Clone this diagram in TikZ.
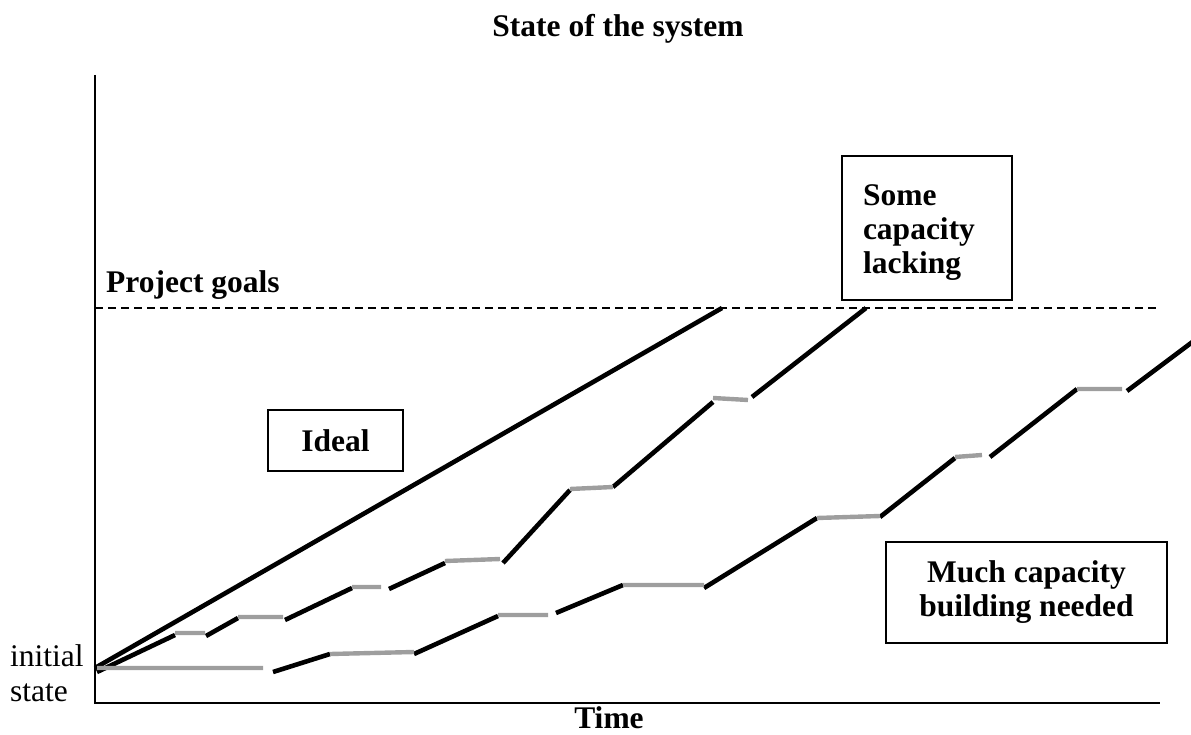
\documentclass[tikz,border=0pt]{standalone}
\usepackage{xcolor}
\usepackage{tikz}
\usepackage{fontspec}
\setmainfont{Liberation Serif}
\definecolor{pausegray}{RGB}{158,158,158}

\begin{document}
\begin{tikzpicture}[
    x=1pt, y=-1pt,
    lbl/.style={inner sep=0pt, font=\fontsize{31.5}{34}\selectfont\bfseries},
    box/.style={rectangle, draw, line width=1.8pt, inner sep=0pt, align=center, font=\fontsize{31.5}{34}\selectfont\bfseries},
    axis/.style={line width=2.2pt},
    goal/.style={line width=1.5pt, dash pattern=on 8pt off 5pt},
    run/.style={line width=4.6pt},
    pause/.style={line width=4.4pt, pausegray}
]
    \useasboundingbox (0,0) rectangle (1191,735);

    % axes
    \coordinate (top) at (95,75);
    \coordinate (origin) at (95,703);
    \coordinate (tend) at (1160,703);
    \draw[axis] (top) -- (origin) -- (tend);

    \node[lbl, anchor=base] (title) at (618,37) {State of the system};
    \node[lbl, anchor=base] (time) at (609,728) {Time};
    \node[lbl, anchor=base west] (goals) at (106,293) {Project goals};
    \node[inner sep=0pt, align=left, anchor=west, font=\fontsize{31.5}{35}\selectfont] (init) at (10,673) {initial\\state};

    % goal line
    \coordinate (g0) at (95,308);
    \coordinate (g1) at (1160,308);
    \draw[goal] (g0) -- (g1);

    % ideal path
    \draw[run] (95,668) -- (722,308);

    % some capacity lacking
    \draw[run] (97,672) -- (175,635) (206,636) -- (238,618) (285,620) -- (352,588)
        (389,589) -- (445,563) (503,563) -- (570,490) (613,487) -- (713,402)
        (752,397) -- (866,308);
    \draw[pause] (175,633) -- (205,633) (238,617) -- (283,617) (352,587) -- (381,587)
        (445,561) -- (500,559) (570,489) -- (613,487) (713,398) -- (748,400);

    % much capacity building needed
    \draw[run] (273,672) -- (330,654) (414,654) -- (498,616) (556,613) -- (623,585)
        (704,588) -- (817,518) (880,517) -- (955,458) (990,457) -- (1077,389)
        (1127,391) -- (1195,340);
    \draw[pause] (97,668) -- (263,668) (330,654) -- (414,652) (498,615) -- (548,615)
        (623,585) -- (704,585) (817,518) -- (880,516) (955,457) -- (982,455)
        (1077,389) -- (1122,389);

    % boxes
    \node[box, minimum width=135pt, minimum height=61pt] (ideal) at (335.5,440.5) {Ideal};
    \node[box, minimum width=170pt, minimum height=144pt, text width=128pt, align=left] (some) at (927,228) {\rule{0pt}{30pt}Some\\capacity\\lacking};
    \node[box, minimum width=281pt, minimum height=101pt] (much) at (1026.5,592.5) {Much capacity\\building needed};
\end{tikzpicture}
\end{document}
